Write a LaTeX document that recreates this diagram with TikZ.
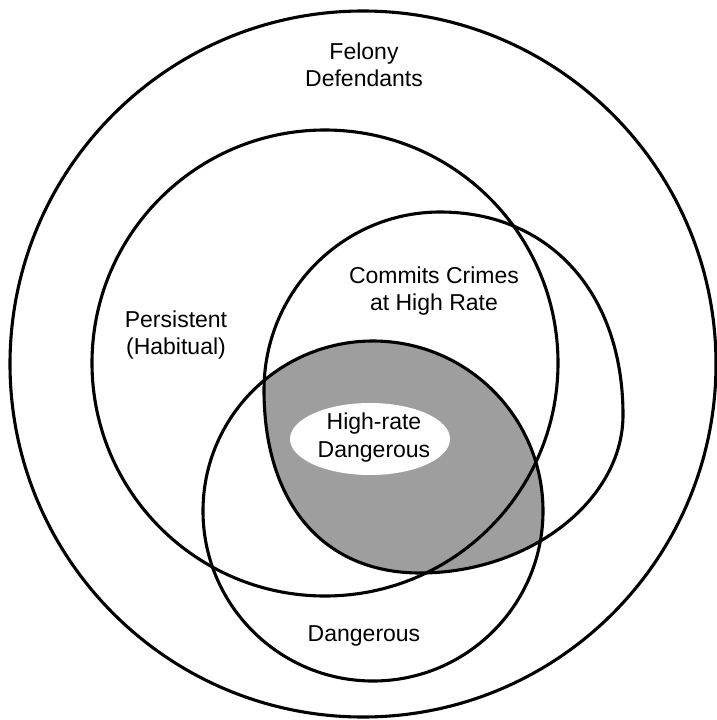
\documentclass[tikz,border=0pt]{standalone}
\usepackage{fontspec}
\setmainfont{Liberation Sans}
\begin{document}
\begin{tikzpicture}[x=1pt,y=-1pt,
  ring/.style={draw=black,line width=3.1pt},
  lbl/.style={inner sep=0pt,align=center,font=\fontsize{23}{27.5}\selectfont},
  shade/.style={fill=black!38}]
\useasboundingbox[fill=white] (0,0) rectangle (717,720);
% key points of the "Commits Crimes at High Rate" set
\coordinate (cT) at (440,212);
\coordinate (cR) at (623,415);
\coordinate (cB) at (420,573);
\coordinate (cL) at (264,390);
% shaded intersection of "Commits" and "Dangerous"
\begin{scope}
  \clip (cT) .. controls (549.8,212) and (623,293.2) .. (cR)
             .. controls (623,500.3) and (529.6,573) .. (cB)
             .. controls (323.3,573) and (264,503.5) .. (cL)
             .. controls (264,291.7) and (342.8,212) .. (cT) -- cycle;
  \fill[shade] (373,511) circle[radius=170];
\end{scope}
\fill[white] (370,439) ellipse[x radius=80,y radius=36];
% outlines
\draw[ring] (363,364) circle[radius=353];
\draw[ring] (325,363) circle[radius=233];
\draw[ring] (373,511) circle[radius=170];
\draw[ring] (cT) .. controls (549.8,212) and (623,293.2) .. (cR)
             .. controls (623,500.3) and (529.6,573) .. (cB)
             .. controls (323.3,573) and (264,503.5) .. (cL)
             .. controls (264,291.7) and (342.8,212) .. (cT) -- cycle;
% labels
\node[lbl] (felony) at (364,67.5) {\strut Felony\\\strut Defendants};
\node[lbl] (commits) at (434,291.25) {\strut Commits Crimes\\\strut at High Rate};
\node[lbl] (persistent) at (176,335.25) {\strut Persistent\\\strut (Habitual)};
\node[lbl] (highrate) at (374,438) {\strut High-rate\\\strut Dangerous};
\node[lbl,anchor=base] (dangerous) at (364,641) {Dangerous};
\end{tikzpicture}
\end{document}
